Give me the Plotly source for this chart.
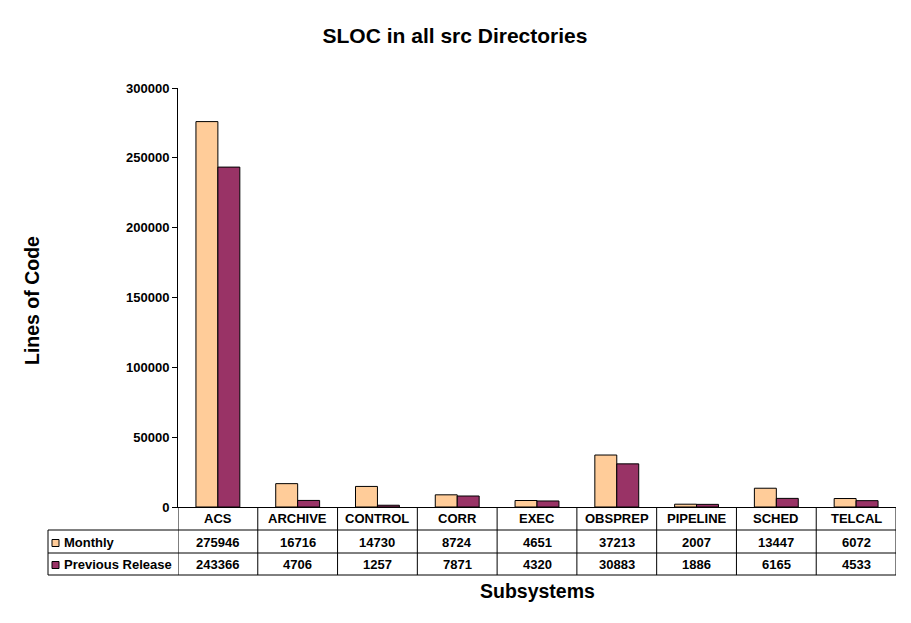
import plotly.graph_objects as go

categories = ["ACS", "ARCHIVE", "CONTROL", "CORR", "EXEC", "OBSPREP", "PIPELINE", "SCHED", "TELCAL"]
monthly = [275946, 16716, 14730, 8724, 4651, 37213, 2007, 13447, 6072]
previous = [243366, 4706, 1257, 7871, 4320, 30883, 1886, 6165, 4533]
series_names = ["Monthly", "Previous Release"]
series_colors = ["#FFCC99", "#993366"]
y_ticks = [0, 50000, 100000, 150000, 200000, 250000, 300000]

W, H = 911, 623
L, R, T, B = 178, 896, 88, 507

def px(x):
    return (x - L) / (R - L)

def py(y):
    return (B - y) / (B - T)

FONT = "Arial, Liberation Sans, sans-serif"
BOLD = dict(family=FONT, size=13, color="black", weight="bold")

fig = go.Figure()
for name, vals, col in zip(series_names, [monthly, previous], series_colors):
    fig.add_trace(go.Bar(x=categories, y=vals, name=name,
                         marker=dict(color=col, line=dict(color="black", width=1))))

shapes = []
annotations = []
row_lines = [530, 553, 575]
for yl in row_lines:
    shapes.append(dict(type="line", xref="paper", yref="paper", x0=px(48), x1=1,
                       y0=py(yl), y1=py(yl), line=dict(color="black", width=1)))
shapes.append(dict(type="line", xref="paper", yref="paper", x0=px(48), x1=px(48),
                   y0=py(530), y1=py(575), line=dict(color="black", width=1)))
n = len(categories)
for i in range(n + 1):
    shapes.append(dict(type="line", xref="x", yref="paper", x0=i - 0.5, x1=i - 0.5,
                       y0=0, y1=py(575), line=dict(color="black", width=1)))

row_centers = [518.5, 542, 564]
for i, c in enumerate(categories):
    annotations.append(dict(x=c, xref="x", y=py(row_centers[0]), yref="paper", text=c,
                            xanchor="center", yanchor="middle", showarrow=False, font=BOLD))
    for r, vals in enumerate([monthly, previous]):
        annotations.append(dict(x=c, xref="x", y=py(row_centers[r + 1]), yref="paper", text=str(vals[i]),
                                xanchor="center", yanchor="middle", showarrow=False, font=BOLD))

for r, (name, col) in enumerate(zip(series_names, series_colors)):
    yc = row_centers[r + 1] + 1
    shapes.append(dict(type="rect", xref="paper", yref="paper", x0=px(52), x1=px(59),
                       y0=py(yc + 3.5), y1=py(yc - 3.5), fillcolor=col,
                       line=dict(color="black", width=1)))
    annotations.append(dict(x=px(62), xref="paper", y=py(row_centers[r + 1]), yref="paper", text=name,
                            xanchor="left", yanchor="middle", showarrow=False, font=BOLD))

annotations.append(dict(x=px(32), xref="paper", y=py(301), yref="paper", text="Lines of Code",
                        textangle=-90, showarrow=False, xanchor="center", yanchor="middle",
                        font=dict(family=FONT, size=19.5, color="black", weight="bold")))
annotations.append(dict(x=px(537), xref="paper", y=py(591), yref="paper", text="Subsystems",
                        showarrow=False, xanchor="center", yanchor="middle",
                        font=dict(family=FONT, size=19.5, color="black", weight="bold")))

fig.update_layout(
    width=W, height=H,
    margin=dict(l=L, r=W - R, t=T, b=H - B, pad=0),
    paper_bgcolor="white", plot_bgcolor="white",
    showlegend=False,
    barmode="group", bargap=0.45, bargroupgap=0,
    title=dict(text="SLOC in all src Directories", x=455 / W, xanchor="center",
               y=1 - 36 / H, yanchor="middle", xref="container", yref="container",
               font=dict(family=FONT, size=21, color="black", weight="bold")),
    xaxis=dict(showticklabels=False, showline=True, linecolor="black", linewidth=1,
               ticks="", showgrid=False, zeroline=False, range=[-0.5, n - 0.5]),
    yaxis=dict(range=[0, 300000], tickvals=y_ticks, ticktext=[str(v) for v in y_ticks],
               showline=True, linecolor="black", linewidth=1, ticks="outside", ticklen=5,
               tickcolor="black", showgrid=False, zeroline=False,
               tickfont=BOLD),
    shapes=shapes, annotations=annotations,
)

fig.write_html("out.html", config={"displayModeBar": False},
               post_script="document.body.style.margin='0';")
